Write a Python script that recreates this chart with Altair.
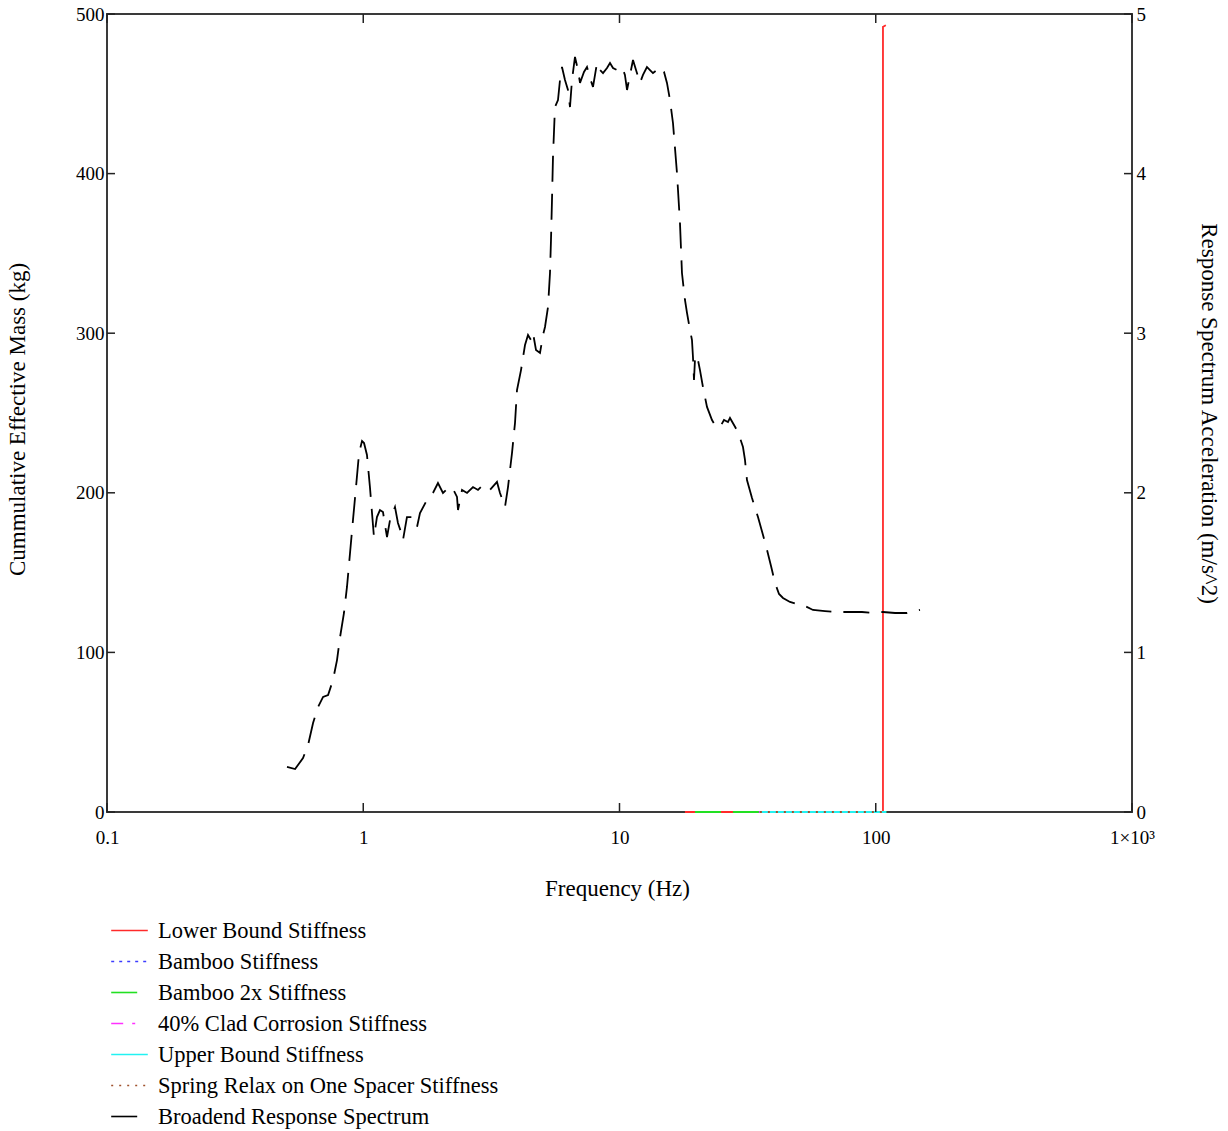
import altair as alt
import pandas as pd

# ---------------- data ----------------
CASES = [
    "Lower Bound Stiffness",
    "Bamboo Stiffness",
    "Bamboo 2x Stiffness",
    "40% Clad Corrosion Stiffness",
    "Upper Bound Stiffness",
    "Spring Relax on One Spacer Stiffness",
    "Broadend Response Spectrum",
]
COLORS = ["#ff2a2a", "#3c3cff", "#22e022", "#ff30ff", "#22f2f2", "#a0522d", "#000000"]
DASHES = [[1, 0], [3, 5], [26, 12], [12, 9, 3, 14], [1, 0], [2, 6], [26, 12]]

# cumulative effective mass (kg) vs frequency (Hz) for each stiffness case
LB_FREQ = [18.0, 106.7, 106.7, 109.5]
LB_MASS = [0, 0, 492, 493]
BAMBOO_FREQ = [35.0, 110.0]
BAMBOO_MASS = [0, 0]
BAMBOO2_FREQ = [19.7, 110.0]
BAMBOO2_MASS = [0, 0]
CLAD_FREQ = [35.0, 110.0]
CLAD_MASS = [0, 0]
UPPER_FREQ = [35.3, 110.0]
UPPER_MASS = [0, 0]
SPRING_FREQ = [35.3, 110.0]
SPRING_MASS = [0, 0]

# broadened response spectrum: frequency (Hz) and acceleration (m/s^2)
SPEC_FREQ = [
    0.504, 0.542, 0.582, 0.609, 0.637, 0.666, 0.697, 0.729, 0.762, 0.790,
    0.812, 0.841, 0.864, 0.888, 0.912, 0.937, 0.963, 0.989, 1.007, 1.034,
    1.062, 1.082, 1.101, 1.131, 1.162, 1.194, 1.216, 1.238, 1.272, 1.330,
    1.366, 1.404, 1.429, 1.481, 1.550, 1.621, 1.665, 1.773, 1.871, 1.957,
    2.047, 2.141, 2.220, 2.322, 2.343, 2.429, 2.541, 2.681, 2.804, 2.933,
    3.123, 3.326, 3.417, 3.574, 3.672, 3.806, 3.910, 3.981, 4.127, 4.278,
    4.395, 4.515, 4.597, 4.722, 4.895, 5.029, 5.120, 5.260, 5.355, 5.403,
    5.452, 5.501, 5.600, 5.754, 5.858, 5.964, 6.127, 6.295, 6.409, 6.525,
    6.703, 6.887, 7.012, 7.268, 7.467, 7.671, 7.881, 8.169, 8.392, 8.622,
    8.938, 9.182, 9.433, 9.777, 10.23, 10.50, 10.70, 10.99, 11.29, 11.60,
    12.02, 12.35, 12.80, 13.15, 13.51, 14.01, 14.39, 14.92, 15.32, 15.74,
    16.17, 16.76, 17.22, 17.53, 18.01, 18.34, 18.84, 19.18, 19.35, 19.53,
    19.70, 20.06, 20.61, 21.17, 21.95, 22.96, 23.81, 24.68, 25.57, 26.51,
    26.99, 27.98, 29.00, 30.33, 30.88, 31.44, 32.89, 34.71, 36.31, 37.64,
    39.02, 40.45, 41.93, 43.45, 46.27, 49.28, 52.01, 56.90, 63.39, 70.61,
    79.34, 88.38, 97.55, 106.7, 118.9, 132.4, 148.8,
]
SPEC_ACC = [
    0.282, 0.269, 0.338, 0.420, 0.558, 0.658, 0.721, 0.733, 0.827, 0.952,
    1.096, 1.247, 1.410, 1.623, 1.830, 2.036, 2.249, 2.325, 2.312, 2.237,
    2.036, 1.873, 1.723, 1.848, 1.892, 1.880, 1.798, 1.723, 1.830, 1.911,
    1.811, 1.754, 1.704, 1.848, 1.848, 1.786, 1.873, 1.955, 1.999, 2.061,
    1.999, 2.030, 2.036, 1.974, 1.892, 2.018, 1.999, 2.036, 2.018, 2.049,
    2.018, 2.068, 1.999, 1.911, 2.036, 2.249, 2.437, 2.644, 2.769, 2.926,
    2.989, 2.957, 3.001, 2.895, 2.876, 2.989, 3.039, 3.164, 3.377, 3.584,
    3.835, 4.104, 4.417, 4.461, 4.586, 4.668, 4.586, 4.524, 4.417, 4.586,
    4.731, 4.649, 4.568, 4.637, 4.668, 4.599, 4.543, 4.693, 4.649, 4.630,
    4.662, 4.693, 4.662, 4.649, 4.668, 4.618, 4.524, 4.618, 4.712, 4.649,
    4.568, 4.618, 4.668, 4.649, 4.630, 4.649, 4.668, 4.637, 4.568, 4.461,
    4.317, 4.004, 3.690, 3.377, 3.208, 3.127, 3.020, 2.957, 2.851, 2.707,
    2.832, 2.863, 2.769, 2.663, 2.538, 2.456, 2.412, 2.412, 2.456, 2.444,
    2.469, 2.425, 2.381, 2.287, 2.206, 2.080, 1.967, 1.848, 1.736, 1.642,
    1.541, 1.435, 1.366, 1.341, 1.316, 1.303, 1.297, 1.266, 1.259, 1.253,
    1.253, 1.253, 1.247, 1.253, 1.247, 1.247, 1.266,
]

X_TICKS = [0.1, 1, 10, 100, 1000]
X_TICK_LABELS = ["0.1", "1", "10", "100", "1×10³"]
Y_LEFT_TICKS = [0, 100, 200, 300, 400, 500]
Y_RIGHT_TICKS = [0, 1, 2, 3, 4, 5]

# ---------------- tables ----------------
STIFF = [
    (CASES[0], LB_FREQ, LB_MASS),
    (CASES[1], BAMBOO_FREQ, BAMBOO_MASS),
    (CASES[2], BAMBOO2_FREQ, BAMBOO2_MASS),
    (CASES[3], CLAD_FREQ, CLAD_MASS),
    (CASES[4], UPPER_FREQ, UPPER_MASS),
    (CASES[5], SPRING_FREQ, SPRING_MASS),
]
spec_df = pd.DataFrame({"freq": SPEC_FREQ, "acc": SPEC_ACC, "case": CASES[6],
                        "idx": range(len(SPEC_FREQ))})

W, H = 1025, 798
FONT = "Liberation Serif"
TICK_FS = 19

label_expr = ""
for v, lab in zip(X_TICKS[:-1], X_TICK_LABELS[:-1]):
    label_expr += f"datum.value < {v * 3} ? '{lab}' : "
label_expr += f"'{X_TICK_LABELS[-1]}'"

x_enc = alt.X(
    "freq:Q",
    scale=alt.Scale(type="log", domain=[0.1, 1000]),
    axis=alt.Axis(
        values=X_TICKS, labelExpr=label_expr, ticks=False, domain=False, grid=False,
        labelFont=FONT, labelFontSize=TICK_FS, labelColor="#000", labelPadding=16,
        labelFlush=False, labelOverlap=False,
        title="Frequency (Hz)", titleFont=FONT, titleFontSize=23,
        titleFontWeight="normal", titleColor="#000",
        titleX=510, titleY=83, titleBaseline="alphabetic", titleAlign="center",
    ),
)
y_left = alt.Y(
    "mass:Q",
    scale=alt.Scale(domain=[0, 500]),
    axis=alt.Axis(
        values=Y_LEFT_TICKS, ticks=False, domain=False, grid=False,
        labelFont=FONT, labelFontSize=TICK_FS, labelColor="#000", labelPadding=3,
        labelFlush=False, labelOverlap=False,
        title="Cummulative Effective Mass (kg)", titleFont=FONT, titleFontSize=23,
        titleFontWeight="normal", titleColor="#000", titleAngle=270,
        titleX=-83, titleY=405, titleBaseline="alphabetic", titleAlign="center",
    ),
)
legend = alt.Legend(
    orient="none", legendX=3, legendY=897, symbolType="stroke", symbolSize=1340,
    symbolStrokeWidth=1.6, labelFont=FONT, labelFontSize=22.5, labelColor="#000",
    labelOffset=9, labelLimit=0, rowPadding=0, padding=0,
)
color_enc = alt.Color("case:N", scale=alt.Scale(domain=CASES, range=COLORS),
                      legend=legend, title=None)
dash_enc = alt.StrokeDash("case:N", scale=alt.Scale(domain=CASES, range=DASHES),
                          legend=legend, title=None)

layers = []
for name, fr, ms in STIFF:
    df = pd.DataFrame({"freq": fr, "mass": ms, "case": name, "idx": range(len(fr))})
    layers.append(
        alt.Chart(df).mark_line(strokeWidth=1.8).encode(
            x=x_enc, y=y_left, color=color_enc, strokeDash=dash_enc,
            order=alt.Order("idx:Q"),
        )
    )

# inward tick marks on the frame
xt = pd.DataFrame({"freq": X_TICKS})
yt = pd.DataFrame({"mass": Y_LEFT_TICKS})
tick_style = dict(color="#222", strokeWidth=1.5)
layers.append(alt.Chart(xt).mark_rule(**tick_style).encode(
    x=x_enc, y=alt.value(H - 9), y2=alt.value(H)))
layers.append(alt.Chart(xt).mark_rule(**tick_style).encode(
    x=x_enc, y=alt.value(0), y2=alt.value(9)))
layers.append(alt.Chart(yt).mark_rule(**tick_style).encode(
    y=y_left, x=alt.value(0), x2=alt.value(8)))
layers.append(alt.Chart(yt).mark_rule(**tick_style).encode(
    y=y_left, x=alt.value(W - 8), x2=alt.value(W)))

left = alt.layer(*layers)

right = alt.Chart(spec_df).mark_line(strokeWidth=1.8).encode(
    x=x_enc,
    y=alt.Y(
        "acc:Q",
        scale=alt.Scale(domain=[0, 5]),
        axis=alt.Axis(
            orient="right", values=Y_RIGHT_TICKS, format="d", ticks=False,
            domain=False, grid=False, labelFont=FONT, labelFontSize=TICK_FS,
            labelColor="#000", labelPadding=4, labelFlush=False, labelOverlap=False,
            title="Response Spectrum Acceleration (m/s^2)", titleFont=FONT,
            titleFontSize=23, titleFontWeight="normal", titleColor="#000",
            titleAngle=90, titleX=69, titleY=399, titleBaseline="alphabetic",
            titleAlign="center",
        ),
    ),
    color=color_enc,
    strokeDash=dash_enc,
    order=alt.Order("idx:Q"),
)

chart = (
    alt.layer(left, right)
    .resolve_scale(y="independent")
    .properties(
        width=W, height=H,
        autosize=alt.AutoSizeParams(type="none"),
        padding={"left": 107, "top": 14, "right": 96, "bottom": 319},
        background="white",
    )
    .configure_view(stroke="#3a3a3a", strokeWidth=2)
)

chart.save("out.html", embed_options={"renderer": "svg", "actions": False})
